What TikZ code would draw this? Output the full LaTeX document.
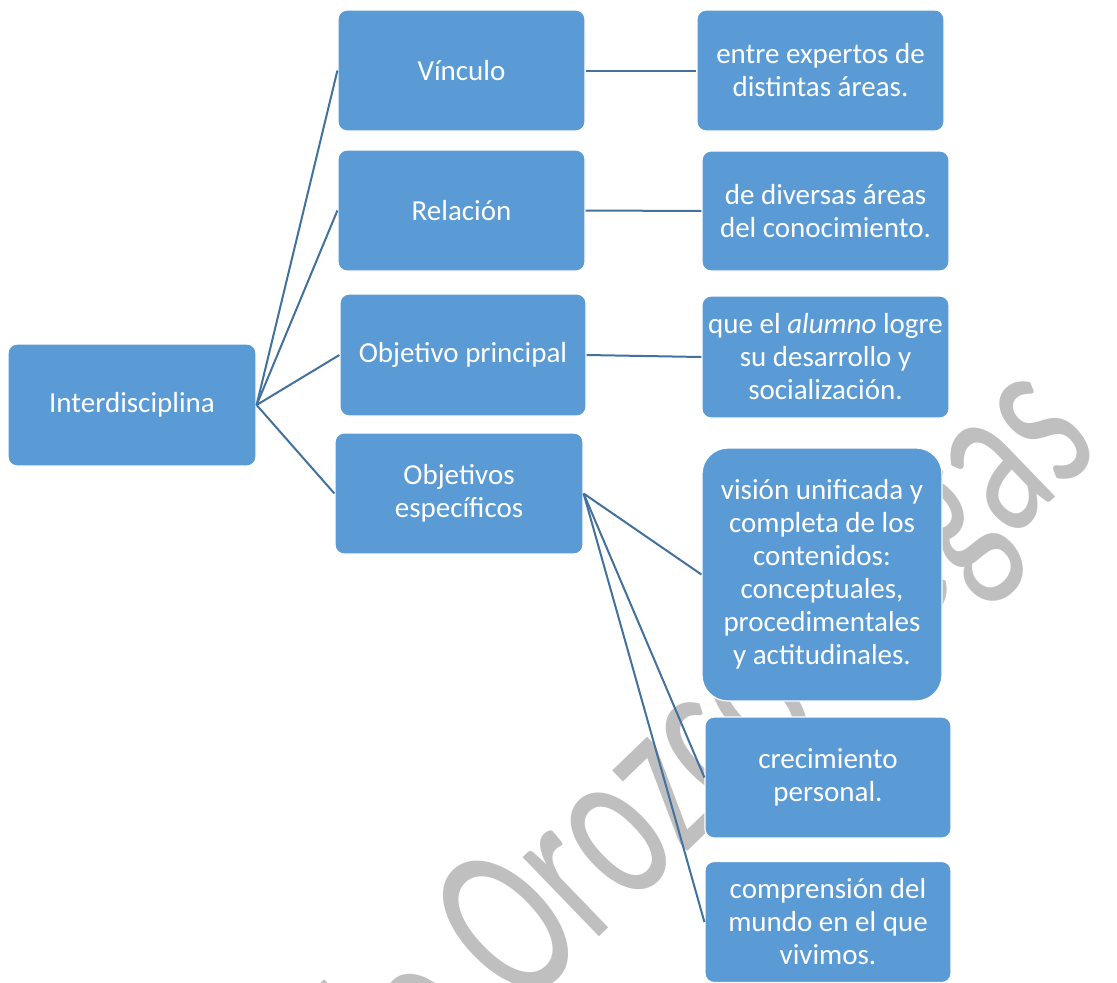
\documentclass[tikz,border=0pt]{standalone}
\usepackage{fontspec}
\setmainfont{Carlito}
\definecolor{boxblue}{HTML}{5B9BD5}
\definecolor{linkblue}{HTML}{41719C}
\definecolor{wmgray}{HTML}{BFBFBF}
\begin{document}
\begin{tikzpicture}[x=1pt,y=-1pt,
  box/.style={rectangle, rounded corners=9pt, fill=boxblue, draw=white, line width=1.2pt,
    text=white, align=center, font=\fontsize{29}{33}\selectfont, inner sep=0pt},
  link/.style={draw=linkblue, line width=2pt},
  wmtext/.style={text=wmgray, font=\fontsize{160}{160}\selectfont, inner sep=0pt, anchor=base west}]
\useasboundingbox (0,0) rectangle (1117,983);
\begin{scope}
  \clip (0,0) rectangle (1117,983);
  \node[wmtext, rotate=44, xscale=0.94, yscale=1.44] (wm) at (386,1143) {de Orozco Vegas};
\end{scope}
% left column
\node[box, minimum width=248pt, minimum height=122pt] (I) at (132,405) {Interdisciplina};
% middle column
\node[box, minimum width=247pt, minimum height=121pt] (V)  at (461.5,70.5)  {Vínculo};
\node[box, minimum width=247pt, minimum height=121pt] (R)  at (461.5,210.5) {Relación};
\node[box, minimum width=246pt, minimum height=122pt] (OP) at (463,355)     {Objetivo principal};
\node[box, minimum width=248pt, minimum height=121pt] (OE) at (459,493.5)   {Objetivos\\específicos};
% right column
\node[box, minimum width=247pt, minimum height=121pt] (E1) at (820.5,70.5) {entre expertos de\\distintas áreas.};
\node[box, minimum width=247pt, minimum height=120pt] (E2) at (825.5,211)  {de diversas áreas\\del conocimiento.};
\node[box, minimum width=247pt, minimum height=122pt] (E3) at (825.5,357)  {que el \emph{alumno} logre\\su desarrollo y\\socialización.};
\node[box, rounded corners=26pt, minimum width=240pt, minimum height=253pt] (E4) at (822,574.5)
  {visión unificada y\\completa de los\\contenidos:\\conceptuales,\\procedimentales\\y actitudinales.};
\node[box, minimum width=246pt, minimum height=121pt] (E5) at (828,777.5) {crecimiento\\personal.};
\node[box, minimum width=246pt, minimum height=121pt] (E6) at (828,922)   {comprensión del\\mundo en el que\\vivimos.};
% connectors
\draw[link] (I.east) -- (V.west);
\draw[link] (I.east) -- (R.west);
\draw[link] (I.east) -- (OP.west);
\draw[link] (I.east) -- (OE.west);
\draw[link] (V.east) -- (E1.west);
\draw[link] (R.east) -- (E2.west);
\draw[link] (OP.east) -- (E3.west);
\draw[link] (OE.east) -- (E4.west);
\draw[link] (OE.east) -- (E5.west);
\draw[link] (OE.east) -- (E6.west);
\end{tikzpicture}
\end{document}
